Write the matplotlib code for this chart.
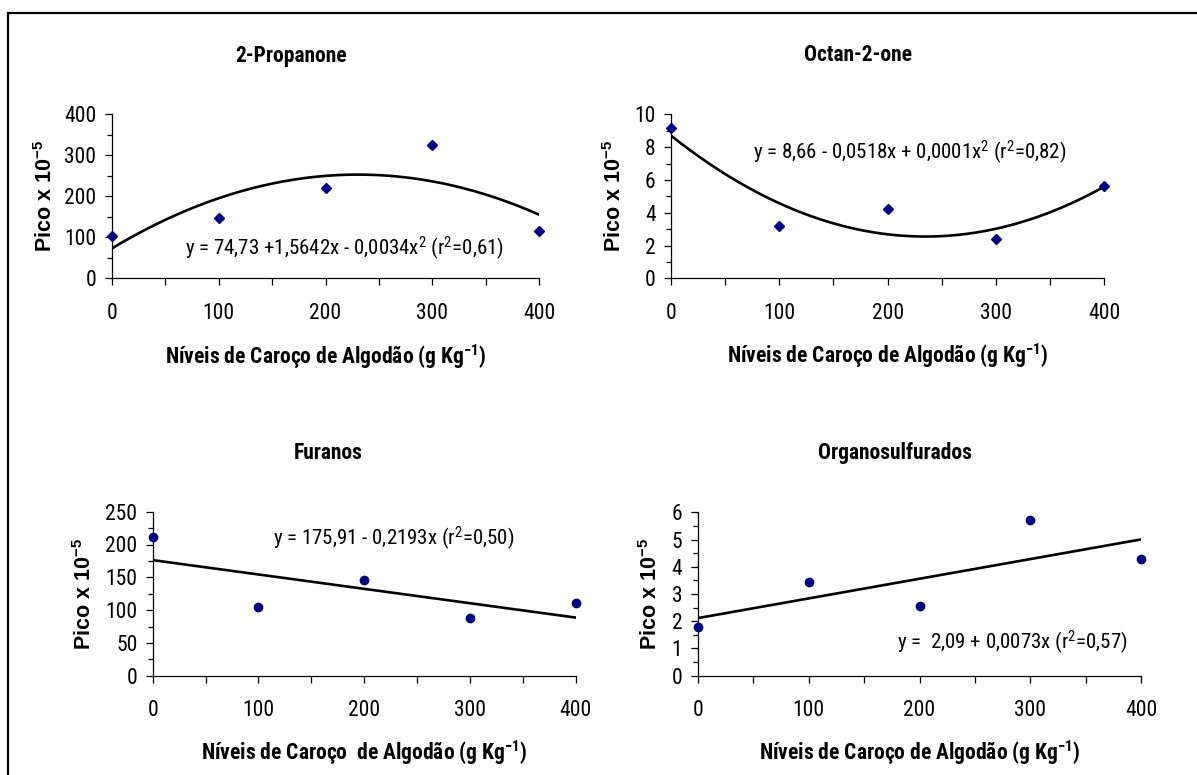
import numpy as np
import matplotlib
matplotlib.use("Agg")
import matplotlib.pyplot as plt
from matplotlib import font_manager
from matplotlib.patches import Rectangle

# narrow sans (Arial Narrow look) if one is installed
names = {f.name for f in font_manager.fontManager.ttflist}
NARROW = "Liberation Sans"
for cand in ["Liberation Sans Narrow", "Roboto Condensed", "Archivo Narrow"]:
    if cand in names:
        NARROW = cand
        break
plt.rcParams["font.family"] = [NARROW, "DejaVu Sans"]
plt.rcParams["mathtext.default"] = "regular"

# data
niveis = [0, 100, 200, 300, 400]
propanone = [102, 146, 221, 324, 116]
octanone = [9.15, 3.17, 4.2, 2.4, 5.65]
furanos = [212, 105, 146, 88, 111]
organosulf = [1.79, 3.45, 2.57, 5.72, 4.27]

titles = ["2-Propanone", "Octan-2-one", "Furanos", "Organosulfurados"]
equations = [
    "y = 74,73 +1,5642x - 0,0034x$^{2}$ (r$^{2}$=0,61)",
    "y = 8,66 - 0,0518x + 0,0001x$^{2}$ (r$^{2}$=0,82)",
    "y = 175,91 - 0,2193x (r$^{2}$=0,50)",
    "y =  2,09 + 0,0073x (r$^{2}$=0,57)",
]
xlabels = [
    "Níveis de Caroço de Algodão (g Kg$^{-1}$)",
    "Níveis de Caroço de Algodão (g Kg$^{-1}$)",
    "Níveis de Caroço  de Algodão (g Kg$^{-1}$)",
    "Níveis de Caroço de Algodão (g Kg$^{-1}$)",
]
ylims = [400, 10, 250, 6]
ymajor = [100, 2, 50, 1]
yminor = [50, 1, 25, 0.5]
fit_degree = [2, 2, 1, 1]
markers = ["D", "D", "o", "o"]
series = [propanone, octanone, furanos, organosulf]

W, H = 1197, 775
fig = plt.figure(figsize=(W / 100, H / 100), dpi=100)


def fx(x):
    return x / W


def fy(y):
    return 1 - y / H


# axes boxes in pixels: left, right, y of zero line, y of top
boxes = [
    (111.7, 539.3, 278.3, 114.3),
    (671.0, 1104.3, 278.3, 114.3),
    (152.7, 575.7, 675.7, 511.7),
    (697.7, 1141.3, 675.7, 512.3),
]
title_pos = [(291, 56), (858, 55), (328, 453), (895, 453)]
ylab_pos = [(46, 196), (615, 196), (85, 594), (651, 594)]
xlab_pos = [(325.5, 357), (888, 356), (364, 753), (920, 753)]
eq_pos = [(344, 248), (910, 152), (394, 538), (1012, 642)]

for i in range(4):
    l, r, b, t = boxes[i]
    ax = fig.add_axes([fx(l), fy(b), fx(r - l), (b - t) / H])
    y = series[i]
    coef = np.polyfit(niveis, y, fit_degree[i])
    xx = np.linspace(0, 400, 200)
    ax.plot(xx, np.polyval(coef, xx), color="black", lw=1.9, zorder=2)
    ms = 5.5 if markers[i] == "D" else 6
    ax.plot(niveis, y, linestyle="none", marker=markers[i], ms=ms,
            color="#000080", zorder=3, clip_on=False)

    ax.set_xlim(0, 400)
    ax.set_ylim(0, ylims[i])
    ax.set_xticks(np.arange(0, 401, 100))
    ax.set_xticks(np.arange(50, 400, 100), minor=True)
    ax.set_yticks(np.arange(0, ylims[i] + 1e-9, ymajor[i]))
    ax.set_yticks(np.arange(yminor[i], ylims[i], ymajor[i]), minor=True)
    if ylims[i] < 20:
        ax.set_yticklabels([f"{v:g}" for v in ax.get_yticks()])
    for s in ["top", "right"]:
        ax.spines[s].set_visible(False)
    for s in ["left", "bottom"]:
        ax.spines[s].set_linewidth(0.9)
    ax.tick_params(axis="x", which="both", length=5, width=0.9, pad=12.5,
                   labelsize=15.5, direction="out")
    ax.tick_params(axis="y", which="major", length=5, width=0.9, pad=6,
                   labelsize=15.5, direction="out")
    ax.tick_params(axis="y", which="minor", length=3.5, width=0.9, direction="out")
    ax.patch.set_alpha(0)

    fig.text(fx(title_pos[i][0]), fy(title_pos[i][1]), titles[i],
             ha="center", va="center", fontsize=15.5, fontweight="bold")
    fig.text(fx(xlab_pos[i][0]), fy(xlab_pos[i][1]), xlabels[i],
             ha="center", va="center", fontsize=15.5, fontweight="bold")
    fig.text(fx(ylab_pos[i][0]), fy(ylab_pos[i][1]), "Pico x 10$^{-5}$",
             ha="center", va="center", rotation=90, fontsize=15.5,
             fontweight="bold", family=["Liberation Sans", "DejaVu Sans"])
    fig.text(fx(eq_pos[i][0]), fy(eq_pos[i][1]), equations[i],
             ha="center", va="center", fontsize=15)

# outer frame: only left and top edges fall inside the image
fig.patches.append(Rectangle((fx(7.5), fy(820)), fx(1260 - 7.5), (820 - 12.7) / H,
                             transform=fig.transFigure, fill=False,
                             edgecolor="black", lw=1.6))

fig.savefig("out.png", dpi=100)
